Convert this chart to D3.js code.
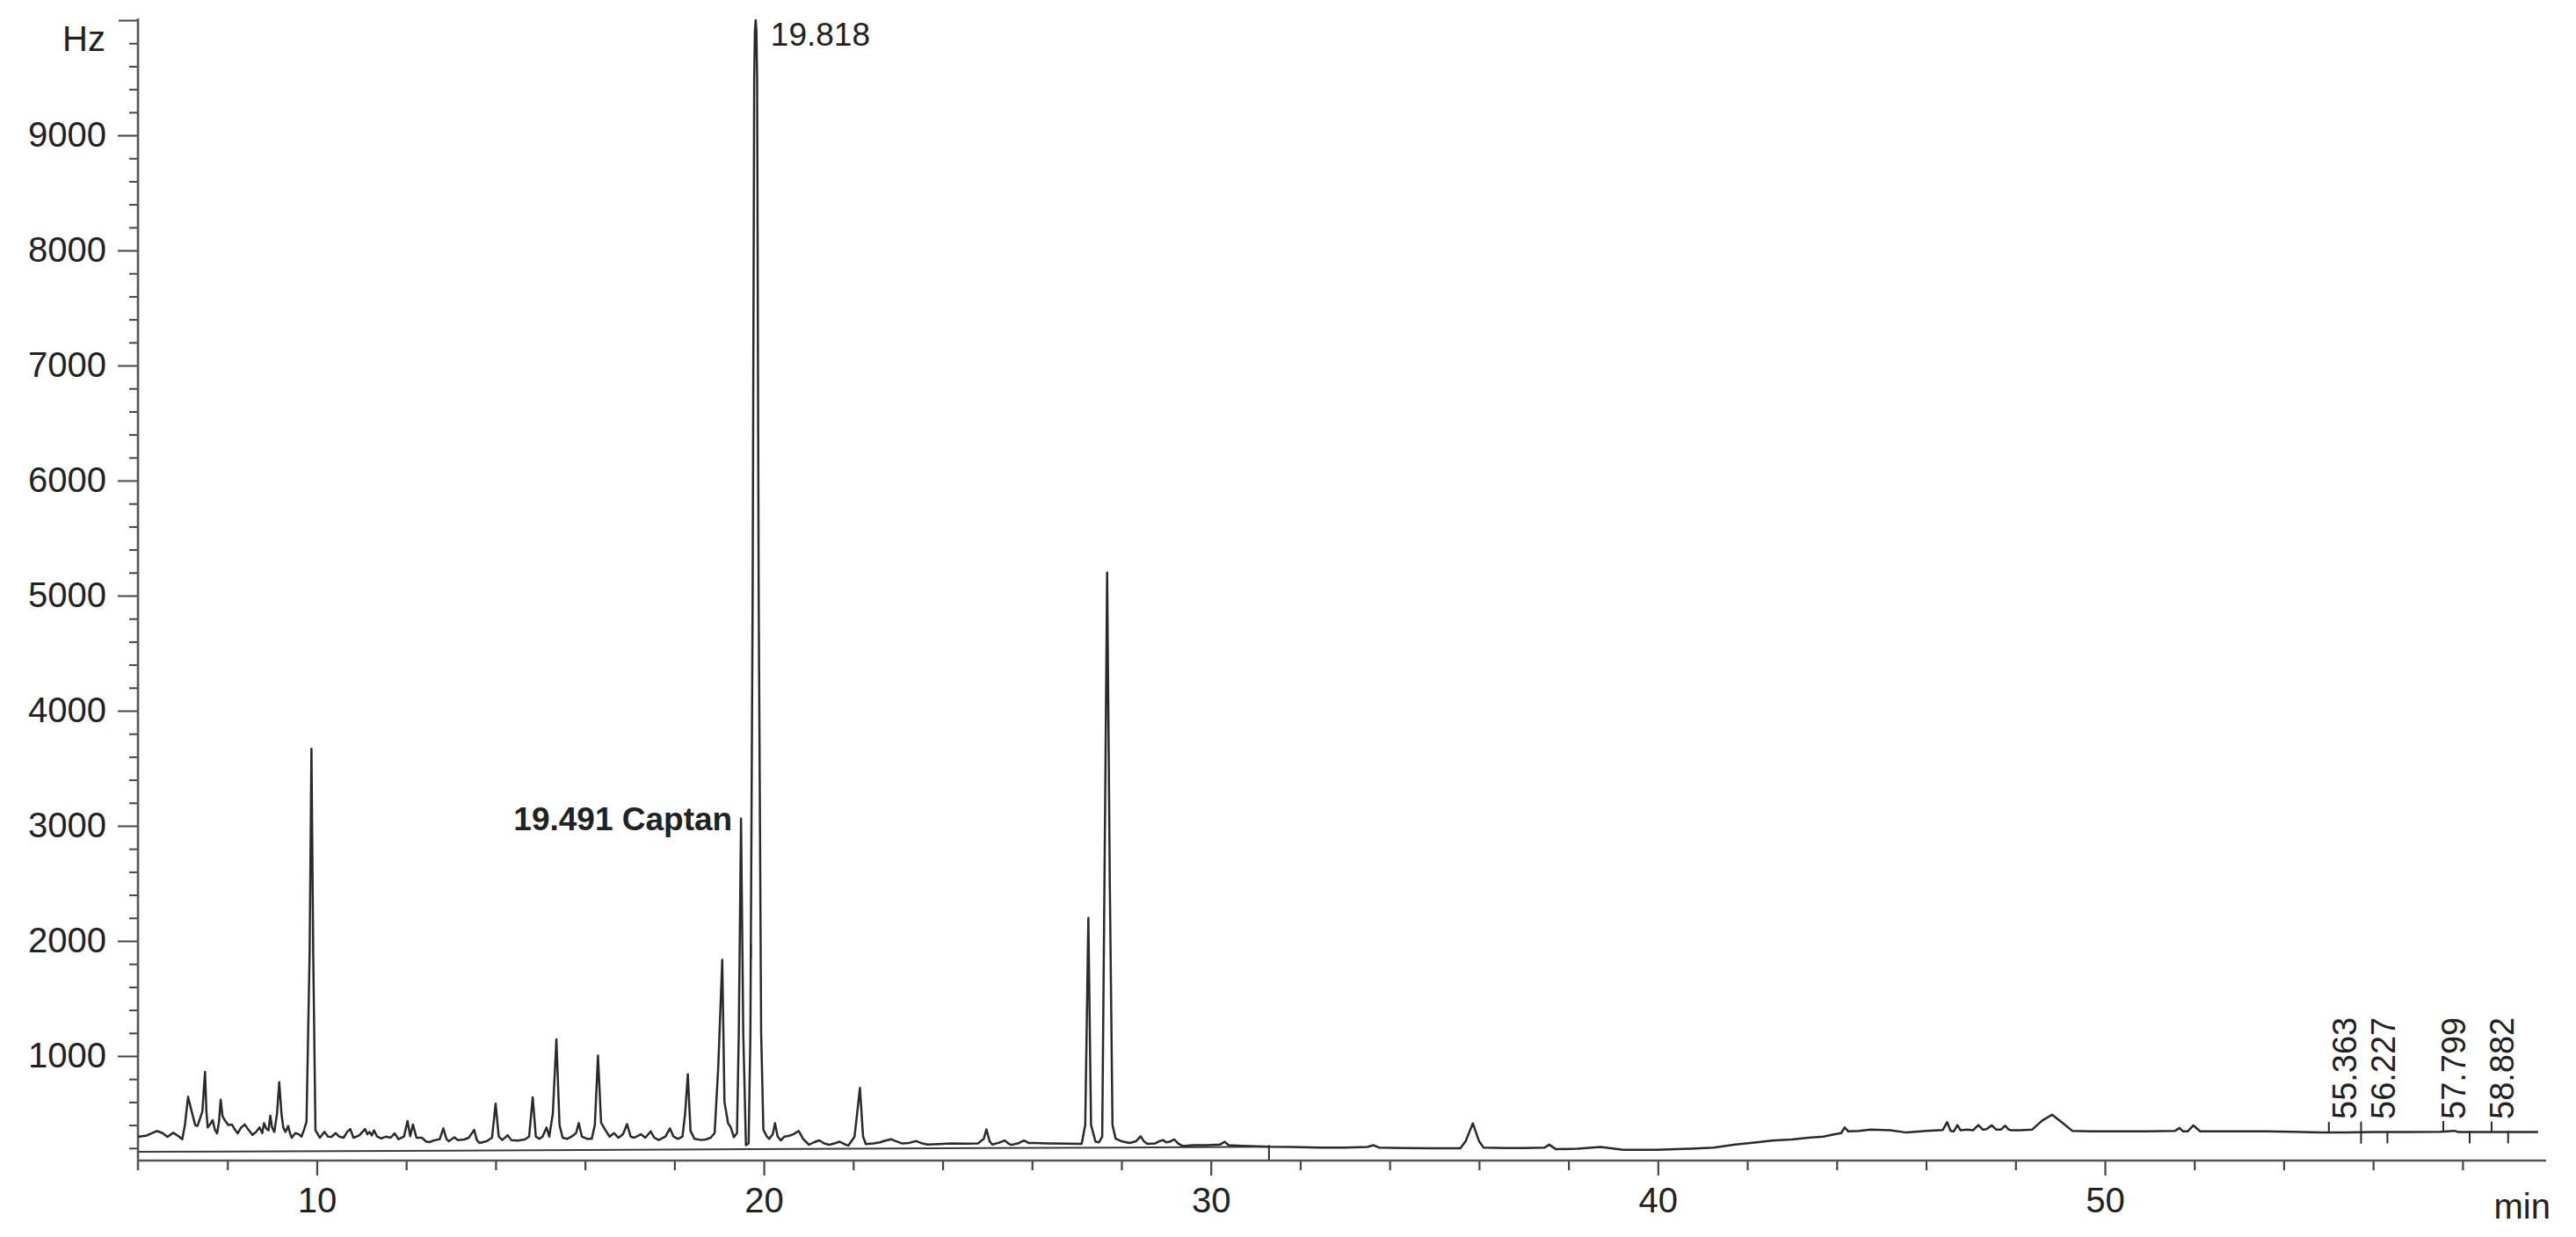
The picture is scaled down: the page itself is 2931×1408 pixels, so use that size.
<!DOCTYPE html>
<html>
<head>
<meta charset="utf-8">
<script src="https://cdn.jsdelivr.net/npm/d3@7"></script>
<style>
  html, body { margin: 0; padding: 0; background: #fff; }
  svg { display: block; }
  text { font-family: "Liberation Sans", Arial, sans-serif; fill: #222; }
</style>
</head>
<body>
<script>
// ---------------- DATA ----------------
// Chromatogram trace, [retention time (min), signal (Hz)]
const trace = [
  [6.00,298],[6.20,310],[6.42,349],[6.55,330],[6.66,298],[6.79,333],[6.92,300],[6.99,277],
  [7.05,400],[7.12,646],[7.20,520],[7.28,400],[7.33,392],[7.40,470],[7.44,519],[7.50,862],
  [7.53,520],[7.56,379],[7.62,410],[7.67,443],[7.72,360],[7.77,328],[7.81,420],[7.85,621],
  [7.89,480],[7.94,443],[8.02,400],[8.10,405],[8.17,360],[8.23,328],[8.31,380],[8.39,405],
  [8.47,360],[8.56,315],[8.64,340],[8.72,380],[8.78,330],[8.82,417],[8.87,370],[8.92,354],
  [8.96,481],[9.00,380],[9.05,341],[9.11,500],[9.16,773],[9.21,500],[9.25,379],[9.30,340],
  [9.36,392],[9.40,330],[9.44,290],[9.52,330],[9.60,320],[9.66,300],[9.72,366],[9.77,430],
  [9.84,1900],[9.88,3670],[9.92,1900],[9.97,354],[10.07,290],[10.17,341],[10.25,300],[10.33,298],
  [10.42,330],[10.50,300],[10.60,290],[10.68,340],[10.75,366],[10.82,290],[10.95,310],[11.08,366],
  [11.13,320],[11.18,341],[11.23,310],[11.28,354],[11.35,300],[11.44,283],[11.55,300],[11.65,290],
  [11.74,328],[11.83,277],[11.95,300],[12.03,435],[12.09,303],[12.15,405],[12.23,290],[12.35,290],
  [12.45,256],[12.52,252],[12.65,270],[12.75,277],[12.83,371],[12.90,280],[12.95,260],[13.08,294],
  [13.15,270],[13.30,275],[13.40,290],[13.52,358],[13.58,270],[13.64,244],[13.80,260],[13.92,290],
  [14.00,586],[14.07,300],[14.15,270],[14.27,312],[14.35,270],[14.50,265],[14.65,275],[14.75,300],
  [14.83,642],[14.90,300],[14.98,280],[15.05,300],[15.14,379],[15.20,300],[15.28,500],[15.36,1145],
  [15.43,400],[15.50,290],[15.60,280],[15.70,300],[15.80,330],[15.86,417],[15.93,300],[16.05,280],
  [16.15,280],[16.22,400],[16.29,1003],[16.36,420],[16.45,360],[16.55,300],[16.65,330],[16.75,290],
  [16.85,320],[16.94,409],[17.02,300],[17.10,290],[17.25,320],[17.35,290],[17.47,345],[17.55,290],
  [17.65,270],[17.80,300],[17.90,371],[17.98,300],[18.08,280],[18.18,300],[18.24,500],[18.30,842],
  [18.36,350],[18.45,280],[18.60,270],[18.70,275],[18.81,290],[18.90,330],[18.98,900],[19.07,1835],
  [19.12,600],[19.20,417],[19.26,380],[19.33,295],[19.40,330],[19.44,1200],[19.49,3063],[19.54,1200],
  [19.60,225],[19.66,240],[19.70,1200],[19.75,5000],[19.785,9500],[19.80,9900],[19.818,10000],
  [19.835,9900],[19.85,9500],[19.885,5000],[19.94,1200],[19.99,360],[20.07,300],[20.12,280],
  [20.20,320],[20.25,417],[20.31,300],[20.38,267],
  [20.46,300],[20.55,305],[20.66,320],[20.78,349],[20.88,280],[21.01,229],[21.12,250],[21.24,267],
  [21.35,240],[21.46,229],[21.58,240],[21.69,256],[21.80,235],[21.89,222],[22.03,300],[22.15,723],
  [22.22,300],[22.28,235],[22.45,240],[22.60,250],[22.72,265],[22.85,277],[22.95,260],[23.10,240],
  [23.25,245],[23.41,261],[23.55,240],[23.66,231],[23.90,235],[24.20,240],[24.50,238],[24.79,240],
  [24.92,280],[24.98,363],[25.05,260],[25.11,231],[25.25,245],[25.39,266],[25.47,240],[25.54,228],
  [25.68,240],[25.82,266],[25.92,245],[26.04,244],[26.40,240],[26.80,238],[27.11,236],[27.19,400],
  [27.26,2200],[27.32,400],[27.42,256],[27.50,250],[27.57,300],[27.62,2500],[27.68,5200],[27.74,2500],
  [27.80,400],[27.87,282],[28.00,260],[28.18,244],[28.33,260],[28.43,302],[28.50,260],[28.58,236],
  [28.75,240],[28.85,260],[28.93,270],[29.00,250],[29.08,255],[29.18,275],[29.27,240],[29.37,218],
  [29.60,225],[29.90,225],[30.20,230],[30.31,255],[30.40,225],[30.70,220],[31.00,215],[31.32,211],
  [31.80,210],[32.45,205],[33.00,205],[33.50,210],[33.64,225],[33.76,205],[34.30,200],[35.00,198],
  [35.58,198],[35.70,260],[35.86,415],[36.00,260],[36.10,205],[36.60,200],[37.00,200],[37.47,205],
  [37.57,230],[37.72,190],[38.20,195],[38.72,210],[39.22,185],[39.60,185],[39.97,185],[40.40,190],
  [40.73,195],[41.25,205],[41.73,231],[42.21,250],[42.55,265],[43.00,275],[43.36,290],[43.70,300],
  [43.96,320],[44.10,330],[44.18,380],[44.26,345],[44.50,350],[44.76,360],[45.20,355],[45.56,335],
  [46.00,350],[46.37,356],[46.47,425],[46.55,350],[46.62,345],[46.70,400],[46.77,355],[46.92,360],
  [47.05,355],[47.17,400],[47.27,360],[47.35,365],[47.47,398],[47.57,360],[47.67,360],[47.77,395],
  [47.85,360],[47.92,355],[48.10,355],[48.37,360],[48.60,440],[48.82,490],[49.05,420],[49.27,350],
  [49.70,345],[50.27,345],[50.90,345],[51.57,350],[51.67,375],[51.75,345],[51.85,345],[51.98,397],
  [52.13,345],[52.80,345],[53.63,345],[54.20,342],[54.83,335],[55.40,335],[56.00,340],[56.82,340],
  [57.50,342],[57.82,350],[57.90,340],[58.50,340],[59.20,340],[59.69,340]
];

// Integration baseline drawn under the trace
const integrationBaseline = [[6.0,168],[11.7,176],[19.7,190],[25.0,200],[31.3,211]];

// Peak start / end markers (min)
const peakStartMarks = [55.01, 55.73, 57.57, 58.65];
const peakEndMarks   = [55.73, 56.32, 58.16, 59.02];
const baselineMarks  = [19.71, 31.3];

// Labelled peaks
const rotatedPeakTimes  = [55.363, 56.227, 57.799, 58.882];
const rotatedPeakLabels = ["55.363", "56.227", "57.799", "58.882"];
const topPeakTime = 19.818, topPeakLabel = "19.818";
const captanTime = 19.491, captanLabel = "19.491 Captan";

// Axis ticks
const xMajorTicks = [10, 20, 30, 40, 50];
const xMinorTicks = [8, 12, 14, 16, 18, 22, 24, 26, 28, 32, 34, 36, 38, 42, 44, 46, 48, 52, 54, 56, 58];
const yMajorTicks = [1000, 2000, 3000, 4000, 5000, 6000, 7000, 8000, 9000];
const yMinorTicks = [200, 400, 600, 800, 1200, 1400, 1600, 1800, 2200, 2400, 2600, 2800,
  3200, 3400, 3600, 3800, 4200, 4400, 4600, 4800, 5200, 5400, 5600, 5800, 6200, 6400, 6600, 6800,
  7200, 7400, 7600, 7800, 8200, 8400, 8600, 8800, 9200, 9400, 9600, 9800];
const yTopTick = [10000];
const yUnit = "Hz", xUnit = "min";

// ---------------- DRAWING ----------------
const W = 2931, H = 1408;
const svg = d3.select("body").append("svg").attr("width", W).attr("height", H);
svg.append("rect").attr("width", W).attr("height", H).attr("fill", "#fff");

const x = d3.scaleLinear().domain([6, 59.87]).range([157, 2897]);
const y = d3.scaleLinear().domain([0, 10000]).range([1333, 23]);
const axisY = 1321;
const ink = "#2a2a2a";

// x axis
const gx = svg.append("g").attr("transform", `translate(0,${axisY})`);
gx.call(d3.axisBottom(x).tickValues(xMajorTicks).tickSize(17).tickPadding(14).tickFormat(d3.format("d")));
const gxm = svg.append("g").attr("transform", `translate(0,${axisY})`);
gxm.call(d3.axisBottom(x).tickValues(xMinorTicks).tickSize(11).tickFormat(""));
[gx, gxm].forEach(g => {
  g.select(".domain").remove();
  g.selectAll("line").attr("stroke", "#444").attr("stroke-width", 2.2);
});
gx.selectAll("text").attr("font-size", 40).attr("fill", "#222")
  .style("font-family", "'Liberation Sans', Arial, sans-serif");
svg.append("line").attr("x1", x(6)).attr("x2", x.range()[1]).attr("y1", axisY).attr("y2", axisY)
  .attr("stroke", "#555").attr("stroke-width", 2.6);

// y axis
const gy = svg.append("g").attr("transform", `translate(${x(6)},0)`);
gy.call(d3.axisLeft(y).tickValues(yMajorTicks).tickSize(23).tickPadding(13).tickFormat(d3.format("d")));
const gyt = svg.append("g").attr("transform", `translate(${x(6)},0)`);
gyt.call(d3.axisLeft(y).tickValues(yTopTick).tickSize(22).tickFormat(""));
const gym = svg.append("g").attr("transform", `translate(${x(6)},0)`);
gym.call(d3.axisLeft(y).tickValues(yMinorTicks).tickSize(10).tickFormat(""));
[gy, gyt, gym].forEach(g => {
  g.select(".domain").remove();
  g.selectAll("line").attr("stroke", "#444").attr("stroke-width", 2);
});
gy.selectAll("text").attr("font-size", 40).attr("fill", "#222")
  .style("font-family", "'Liberation Sans', Arial, sans-serif");
svg.append("line").attr("x1", x(6)).attr("x2", x(6)).attr("y1", y(10000) - 2).attr("y2", axisY + 11)
  .attr("stroke", "#555").attr("stroke-width", 2.6);

// unit labels
svg.append("text").attr("x", 120).attr("y", 58).attr("text-anchor", "end")
  .attr("font-size", 40).text(yUnit);
svg.append("text").attr("x", 2902).attr("y", 1387).attr("text-anchor", "end")
  .attr("font-size", 40).text(xUnit);

// integration baseline
const line = d3.line().x(d => x(d[0])).y(d => y(d[1])).curve(d3.curveLinear);
svg.append("path").datum(integrationBaseline).attr("d", line)
  .attr("fill", "none").attr("stroke", "#3a3a3a").attr("stroke-width", 2);

// trace
svg.append("path").datum(trace).attr("d", line)
  .attr("fill", "none").attr("stroke", ink).attr("stroke-width", 2.5)
  .attr("stroke-linejoin", "round");

// markers
const traceAt = t => {
  const i = d3.bisector(d => d[0]).left(trace, t);
  const a = trace[Math.max(0, i - 1)], b = trace[Math.min(trace.length - 1, i)];
  if (b[0] === a[0]) return a[1];
  return a[1] + (b[1] - a[1]) * (t - a[0]) / (b[0] - a[0]);
};
svg.selectAll("line.ps").data(peakStartMarks).join("line").attr("class", "ps")
  .attr("x1", d => x(d)).attr("x2", d => x(d))
  .attr("y1", d => y(traceAt(d)) - 12).attr("y2", d => y(traceAt(d)) + 1)
  .attr("stroke", ink).attr("stroke-width", 2);
svg.selectAll("line.pe").data(peakEndMarks).join("line").attr("class", "pe")
  .attr("x1", d => x(d)).attr("x2", d => x(d))
  .attr("y1", d => y(traceAt(d)) - 1).attr("y2", d => y(traceAt(d)) + 13)
  .attr("stroke", ink).attr("stroke-width", 2);
svg.selectAll("line.bm").data(baselineMarks).join("line").attr("class", "bm")
  .attr("x1", d => x(d)).attr("x2", d => x(d))
  .attr("y1", d => y(traceAt(d)) - 2).attr("y2", d => y(traceAt(d)) + 15)
  .attr("stroke", ink).attr("stroke-width", 2);

// rotated peak labels
svg.selectAll("text.rl").data(rotatedPeakTimes).join("text").attr("class", "rl")
  .attr("transform", d => `translate(${x(d)},1274) rotate(-90)`)
  .attr("dy", "0.36em").attr("text-anchor", "start").attr("font-size", 38)
  .text((d, i) => rotatedPeakLabels[i]);

// top peak label
svg.append("text").attr("x", x(topPeakTime) + 17).attr("y", 52)
  .attr("font-size", 37).text(topPeakLabel);

// captan label
svg.append("text").attr("x", x(captanTime) - 10).attr("y", 945)
  .attr("text-anchor", "end").attr("font-size", 37).attr("font-weight", "bold")
  .text(captanLabel);
</script>
</body>
</html>
